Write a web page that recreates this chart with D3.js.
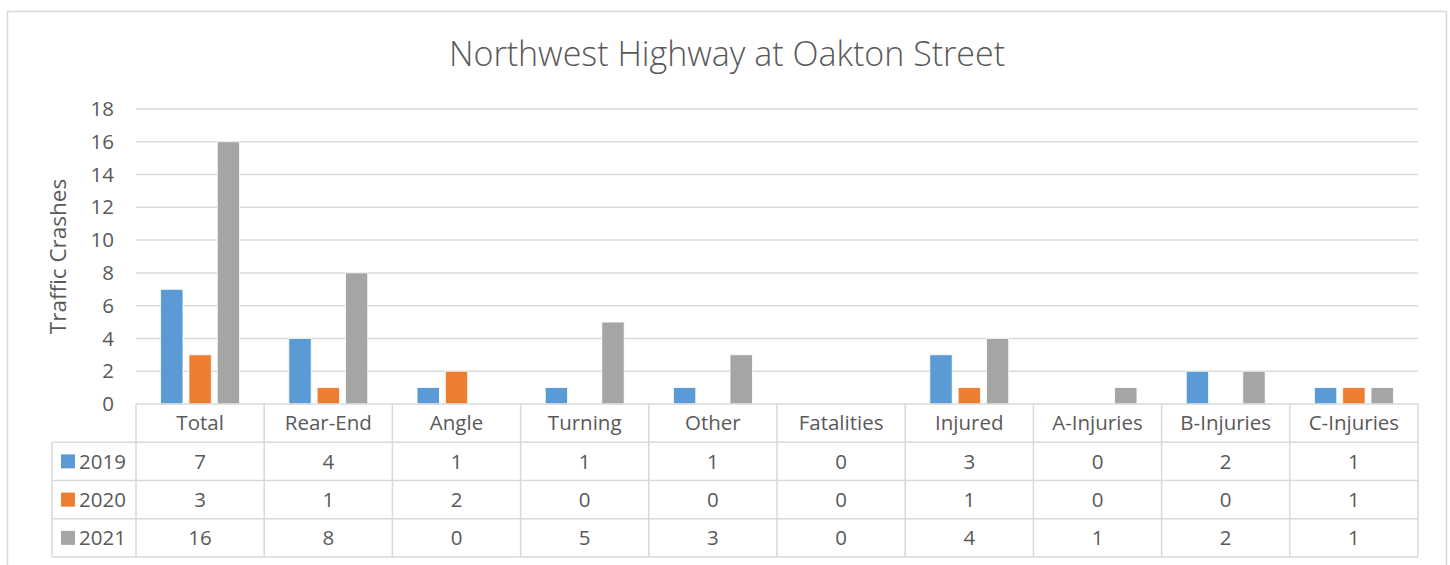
<!DOCTYPE html>
<html>
<head>
<meta charset="UTF-8">
<title>Northwest Highway at Oakton Street</title>
<script src="https://d3js.org/d3.v7.min.js"></script>
<style>
	body { margin: 0; background: #fff; }
	text { font-family: "Open Sans", sans-serif; fill: #595959; }
</style>
</head>
<body>
	<div id="chart"></div>
	<script type="text/javascript">
		// data
		const categories = ["Total", "Rear-End", "Angle", "Turning", "Other", "Fatalities", "Injured", "A-Injuries", "B-Injuries", "C-Injuries"];
		const years = ["2019", "2020", "2021"];
		const values2019 = [7, 4, 1, 1, 1, 0, 3, 0, 2, 1];
		const values2020 = [3, 1, 2, 0, 0, 0, 1, 0, 0, 1];
		const values2021 = [16, 8, 0, 5, 3, 0, 4, 1, 2, 1];
		const yTicks = [0, 2, 4, 6, 8, 10, 12, 14, 16, 18];
		const colors = ["#5b9bd5", "#ed7d31", "#a5a5a5"];

		const series = [values2019, values2020, values2021];

		const W = 1450, H = 565;
		const plotLeft = 136, plotRight = 1418, plotTop = 109, plotBottom = 404;
		const legendLeft = 52;
		const tableBottom = 557;
		const gridColor = "#d9d9d9";
		const fs = 20.5;

		let svg = d3.select("#chart")
			.append("svg")
			.attr("width", W)
			.attr("height", H);

		// chart border
		svg.append("rect")
			.attr("x", 7.5).attr("y", 11.5)
			.attr("width", 1439).attr("height", 600)
			.attr("fill", "none")
			.attr("stroke", gridColor)
			.attr("stroke-width", 1.5);

		let x = d3.scaleBand()
			.domain(categories)
			.range([plotLeft, plotRight]);

		let y = d3.scaleLinear()
			.domain([0, 18])
			.range([plotBottom, plotTop]);

		// within a category: 3 bars
		let bw = x.bandwidth() * 0.174;
		let step = x.bandwidth() * 0.2207;
		let inner = d3.scalePoint()
			.domain(d3.range(series.length))
			.range([-step, step]);

		// gridlines
		svg.append("g")
			.selectAll("line")
			.data(yTicks.filter(d => d > 0))
			.join("line")
			.attr("x1", plotLeft).attr("x2", plotRight)
			.attr("y1", d => y(d)).attr("y2", d => y(d))
			.attr("stroke", gridColor)
			.attr("stroke-width", 1.5);

		// y axis labels
		let yAxis = svg.append("g")
			.attr("transform", `translate(${plotLeft},0)`)
			.call(d3.axisLeft(y).tickValues(yTicks).tickSize(0).tickPadding(22));
		yAxis.select(".domain").remove();
		yAxis.selectAll("text")
			.attr("font-size", fs)
			.attr("font-family", null)
			.attr("fill", null);

		// axis title
		svg.append("text")
			.attr("transform", `translate(66,${(plotTop + plotBottom) / 2}) rotate(-90)`)
			.attr("text-anchor", "middle")
			.attr("font-size", 22.5)
			.text("Traffic Crashes");

		// title
		svg.append("text")
			.attr("x", 727)
			.attr("y", 66)
			.attr("text-anchor", "middle")
			.attr("font-size", 34)
			.attr("font-weight", 300)
			.text("Northwest Highway at Oakton Street");

		// bars
		series.forEach((vals, si) => {
			svg.append("g")
				.selectAll("rect")
				.data(vals.map((v, i) => ({ cat: categories[i], v: v })).filter(d => d.v > 0))
				.join("rect")
				.attr("x", d => x(d.cat) + x.bandwidth() / 2 + inner(si) - bw / 2)
				.attr("y", d => y(d.v))
				.attr("width", bw)
				.attr("height", d => y(0) - y(d.v))
				.attr("fill", colors[si])
				.attr("stroke", "#fff")
				.attr("stroke-width", 0.75);
		});

		// data table
		let rows = d3.scaleBand()
			.domain(["head"].concat(years))
			.range([plotBottom, tableBottom]);

		let table = svg.append("g");

		// horizontal lines
		table.selectAll("line.h")
			.data(rows.domain().concat(["end"]))
			.join("line")
			.attr("class", "h")
			.attr("x1", d => d === "head" ? plotLeft : legendLeft)
			.attr("x2", plotRight)
			.attr("y1", d => d === "end" ? tableBottom : rows(d))
			.attr("y2", d => d === "end" ? tableBottom : rows(d))
			.attr("stroke", gridColor)
			.attr("stroke-width", 1.5);

		// vertical lines
		let vx = categories.map(c => x(c)).concat([plotRight]);
		table.selectAll("line.v")
			.data(vx)
			.join("line")
			.attr("class", "v")
			.attr("x1", d => d).attr("x2", d => d)
			.attr("y1", plotBottom).attr("y2", tableBottom)
			.attr("stroke", gridColor)
			.attr("stroke-width", 1.5);
		table.append("line")
			.attr("x1", legendLeft).attr("x2", legendLeft)
			.attr("y1", rows("2019")).attr("y2", tableBottom)
			.attr("stroke", gridColor)
			.attr("stroke-width", 1.5);

		// category labels
		table.selectAll("text.cat")
			.data(categories)
			.join("text")
			.attr("class", "cat")
			.attr("x", d => x(d) + x.bandwidth() / 2)
			.attr("y", rows("head") + rows.bandwidth() / 2)
			.attr("dy", "0.35em")
			.attr("text-anchor", "middle")
			.attr("font-size", fs)
			.text(d => d);

		// legend keys and values
		years.forEach((yr, si) => {
			let cy = rows(yr) + rows.bandwidth() / 2;
			table.append("rect")
				.attr("x", 61).attr("y", cy - 7)
				.attr("width", 14).attr("height", 14)
				.attr("fill", colors[si]);
			table.append("text")
				.attr("x", 79).attr("y", cy)
				.attr("dy", "0.35em")
				.attr("font-size", fs)
				.text(yr);
			table.selectAll("text.v" + yr)
				.data(series[si])
				.join("text")
				.attr("class", "v" + yr)
				.attr("x", (d, i) => x(categories[i]) + x.bandwidth() / 2)
				.attr("y", cy)
				.attr("dy", "0.35em")
				.attr("text-anchor", "middle")
				.attr("font-size", fs)
				.text(d => d);
		});
	</script>
</body>
</html>
